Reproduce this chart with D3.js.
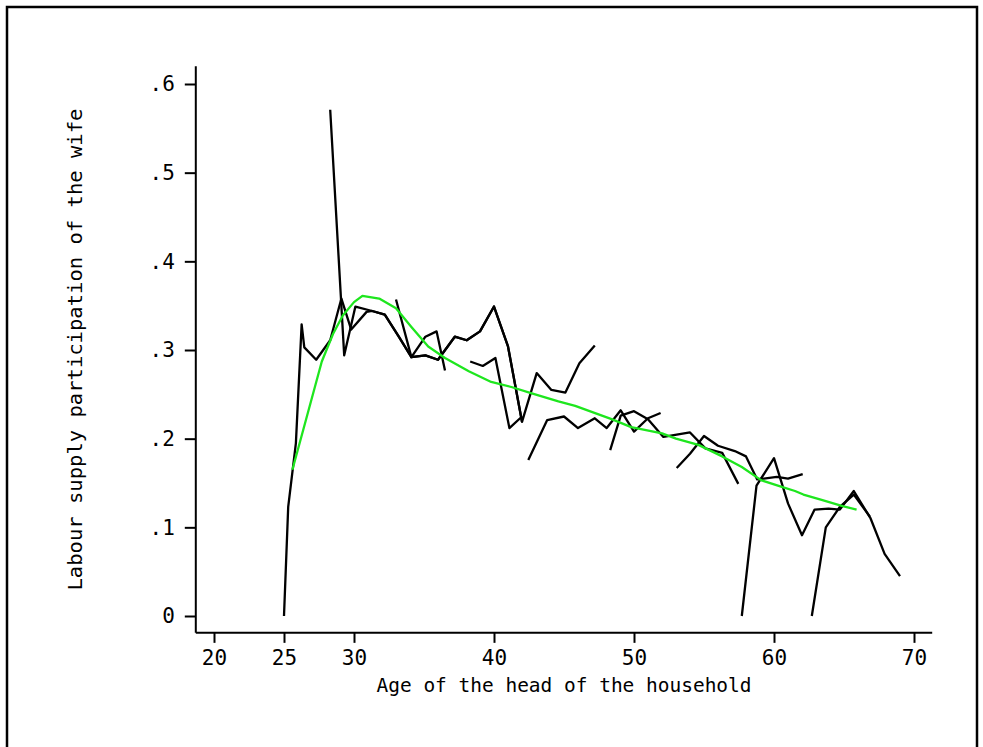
<!DOCTYPE html>
<html>
<head>
<meta charset="utf-8">
<script src="https://cdn.jsdelivr.net/npm/d3@7"></script>
<style>
  body { margin: 0; background: #fff; }
  text { font-family: "DejaVu Sans Mono", monospace; }
</style>
</head>
<body>
<div id="chart"></div>
<script>
// tick labels
var xTicks = [20, 25, 30, 40, 50, 60, 70];
var yTicks = [0, 0.1, 0.2, 0.3, 0.4, 0.5, 0.6];

// cohort means: [age of head, participation of the wife]
var cohort1 = [[25.0,0],[25.3,0.123],[25.85,0.195],[26.26,0.329],[26.45,0.303],[27.3,0.289],[28.3,0.311],
  [29.1,0.358],[29.8,0.323],[30.9,0.343],[31.3,0.344],[32.2,0.340],[33.2,0.315],[34.1,0.292],
  [35.1,0.315],[35.9,0.321],[36.5,0.277]];
var cohort2 = [[28.3,0.571],[29.3,0.294],[30.1,0.349],[31.3,0.344],[32.2,0.340],[33.2,0.315],[34.1,0.292],
  [35.1,0.294],[36.0,0.289],[37.2,0.315],[38.05,0.311],[39.0,0.321],[40.0,0.349],[41.0,0.304],[42.0,0.219]];
var cohort3 = [[33.0,0.357],[34.1,0.292],[35.1,0.294],[36.0,0.289],[37.2,0.315],[38.05,0.311],[39.0,0.321],
  [40.0,0.349],[41.0,0.304],[42.0,0.219],[43.05,0.274],[44.1,0.255],[45.1,0.252],[46.1,0.285],[47.2,0.305]];
var cohort4 = [[38.3,0.287],[39.2,0.282],[40.1,0.291],[41.1,0.212],[42.0,0.225]];
var cohort5 = [[42.45,0.176],[43.8,0.221],[45.0,0.225],[46.0,0.212],[47.2,0.223],[48.05,0.212],[49.05,0.232],
  [50.0,0.208],[51.0,0.223],[51.9,0.229]];
var cohort6 = [[48.3,0.187],[49.05,0.226],[50.0,0.231],[51.0,0.222],[52.1,0.202],[54.0,0.207],[55.1,0.189],
  [56.3,0.184],[57.45,0.149]];
var cohort7 = [[53.05,0.167],[54.0,0.183],[55.0,0.203],[56.0,0.192],[57.2,0.186],[58.0,0.180],[58.8,0.154],
  [60.2,0.157],[61.0,0.155],[62.05,0.160]];
var cohort8 = [[57.7,0],[58.75,0.147],[60.0,0.178],[61.0,0.127],[62.0,0.091],[62.9,0.120],[63.9,0.121],
  [64.7,0.120],[65.7,0.141],[66.9,0.110],[67.9,0.070],[69.0,0.045]];
var cohort9 = [[62.7,0],[63.7,0.100],[64.7,0.123],[65.7,0.137],[66.85,0.112]];

// smoothed profile
var smooth = [[25.6,0.165],[27.7,0.287],[28.5,0.318],[29.2,0.339],[30.0,0.354],[30.6,0.361],[31.8,0.358],
  [33.0,0.347],[34.1,0.326],[35.3,0.304],[36.5,0.291],[38.2,0.276],[39.8,0.264],[41.3,0.258],[42.7,0.251],
  [44.6,0.242],[45.8,0.237],[48.4,0.222],[49.8,0.213],[52.0,0.206],[53.0,0.200],[54.6,0.193],[56.3,0.180],
  [57.7,0.168],[59.1,0.153],[60.5,0.146],[61.5,0.141],[62.1,0.137],[63.4,0.131],[64.9,0.124],[65.9,0.120]];

var cohorts = [cohort1, cohort2, cohort3, cohort4, cohort5, cohort6, cohort7, cohort8, cohort9];

var width = 983, height = 747;

var svg = d3.select("#chart").append("svg")
  .attr("width", width)
  .attr("height", height);

// outer frame (bottom edge runs off the page)
svg.append("rect")
  .attr("x", 7).attr("y", 7)
  .attr("width", 970).attr("height", 770)
  .style("fill", "none")
  .style("stroke", "black")
  .style("stroke-width", 2.5);

var x = d3.scaleLinear().domain([20, 70]).range([214, 914]);
var y = d3.scaleLinear().domain([0, 0.6]).range([616, 84]);

var xLo = 18.7, xHi = 71.3, yLo = -0.019, yHi = 0.62;

// x axis
var gx = svg.append("g")
  .attr("transform", "translate(0," + y(yLo) + ")")
  .call(d3.axisBottom(x).tickValues(xTicks).tickSize(10).tickPadding(7)
    .tickFormat(d3.format("d")));
gx.select(".domain").remove();
gx.append("line")
  .attr("x1", x(xLo)).attr("x2", x(xHi))
  .style("stroke", "black").style("stroke-width", 2);

// y axis
var gy = svg.append("g")
  .attr("transform", "translate(" + x(xLo) + ",0)")
  .call(d3.axisLeft(y).tickValues(yTicks).tickSize(11).tickPadding(10)
    .tickFormat(function(d) { return d === 0 ? "0" : d3.format(".1f")(d).replace(/^0/, ""); }));
gy.select(".domain").remove();
gy.append("line")
  .attr("y1", y(yLo)).attr("y2", y(yHi))
  .style("stroke", "black").style("stroke-width", 2);

svg.selectAll(".tick line").style("stroke", "black").style("stroke-width", 2);
svg.selectAll(".tick text")
  .style("font-size", "21px")
  .style("fill", "black")
  .style("font-family", "'DejaVu Sans Mono', monospace");

// axis titles
svg.append("text")
  .attr("x", (x(xLo) + x(xHi)) / 2)
  .attr("y", 692)
  .attr("text-anchor", "middle")
  .attr("textLength", 375)
  .attr("lengthAdjust", "spacingAndGlyphs")
  .style("font-size", "20px")
  .text("Age of the head of the household");

svg.append("text")
  .attr("transform", "translate(82," + (y(yLo) + y(yHi)) / 2 + ") rotate(-90)")
  .attr("text-anchor", "middle")
  .attr("textLength", 482)
  .attr("lengthAdjust", "spacingAndGlyphs")
  .style("font-size", "20px")
  .text("Labour supply participation of the wife");

var line = d3.line()
  .x(function(d) { return x(d[0]); })
  .y(function(d) { return y(d[1]); });

svg.append("g").attr("class", "cohorts")
  .selectAll("path")
  .data(cohorts).enter()
  .append("path")
  .attr("d", line)
  .style("fill", "none")
  .style("stroke", "black")
  .style("stroke-width", 2.3)
  .style("stroke-linejoin", "round");

svg.append("path")
  .datum(smooth)
  .attr("d", line)
  .style("fill", "none")
  .style("stroke", "#1ee61e")
  .style("stroke-width", 2.3)
  .style("stroke-linejoin", "round");
</script>
</body>
</html>
